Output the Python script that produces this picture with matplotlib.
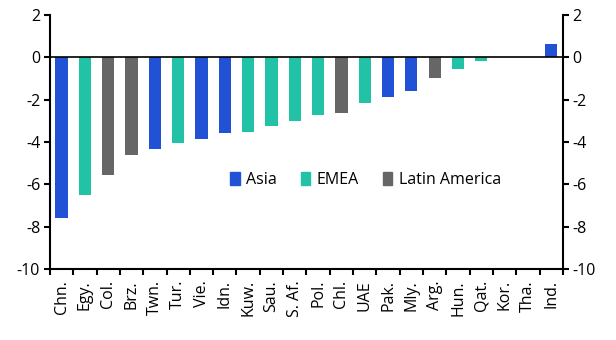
import matplotlib
matplotlib.use("Agg")
import matplotlib.pyplot as plt
from matplotlib.patches import Patch

plt.rcParams['font.family'] = ['Open Sans', 'DejaVu Sans']

countries = ["Chn.", "Egy.", "Col.", "Brz.", "Twn.", "Tur.", "Vie.", "Idn.", "Kuw.", "Sau.",
             "S. Af.", "Pol.", "Chl.", "UAE", "Pak.", "Mly.", "Arg.", "Hun.", "Qat.", "Kor.",
             "Tha.", "Ind."]
values = [-7.6, -6.5, -5.55, -4.6, -4.35, -4.03, -3.84, -3.6, -3.55, -3.25,
          -3.03, -2.74, -2.64, -2.17, -1.89, -1.59, -0.98, -0.55, -0.17, 0.0,
          0.0, 0.65]
regions = ["Asia", "EMEA", "Latin America", "Latin America", "Asia", "EMEA", "Asia", "Asia",
           "EMEA", "EMEA", "EMEA", "EMEA", "Latin America", "EMEA", "Asia", "Asia",
           "Latin America", "EMEA", "EMEA", "Asia", "Asia", "Asia"]
region_names = ["Asia", "EMEA", "Latin America"]
region_colors = {"Asia": "#2152d6", "EMEA": "#22c2a6", "Latin America": "#666666"}
y_ticks = [2, 0, -2, -4, -6, -8, -10]

fig = plt.figure(figsize=(6.16, 3.4), dpi=100)
ax = fig.add_axes([0.081, 0.209, 0.833, 0.747])

n = len(countries)
xs = list(range(n))
ax.bar(xs, values, width=0.52, color=[region_colors[r] for r in regions], zorder=2)
ax.axhline(0, color="black", lw=1.2, zorder=3)

ax.set_xlim(-0.5, n - 0.5)
ax.set_ylim(-10, 2)
ax.set_yticks(y_ticks)
ax.set_yticklabels([str(t) for t in y_ticks])
ax.tick_params(axis='y', direction='out', length=4, width=1.5, labelsize=11.5,
               right=True, labelright=True, pad=3)

ax.set_xticks([i - 0.5 for i in range(n + 1)], minor=True)
ax.set_xticks(xs)
ax.set_xticklabels(countries, rotation=90, fontsize=11.5)
ax.tick_params(axis='x', which='major', length=0, pad=8)
ax.tick_params(axis='x', which='minor', direction='out', length=4, width=1.5)

for s in ["left", "right", "bottom"]:
    ax.spines[s].set_linewidth(1.5)
ax.spines["top"].set_visible(False)

handles = [Patch(color=region_colors[r], label=r) for r in region_names]
ax.legend(handles=handles, loc="center", bbox_to_anchor=(0.615, 0.35), ncol=3,
          frameon=False, fontsize=11.5, handlelength=0.6, handleheight=0.8,
          handletextpad=0.4, columnspacing=1.5)

fig.savefig("out.png", dpi=100)
